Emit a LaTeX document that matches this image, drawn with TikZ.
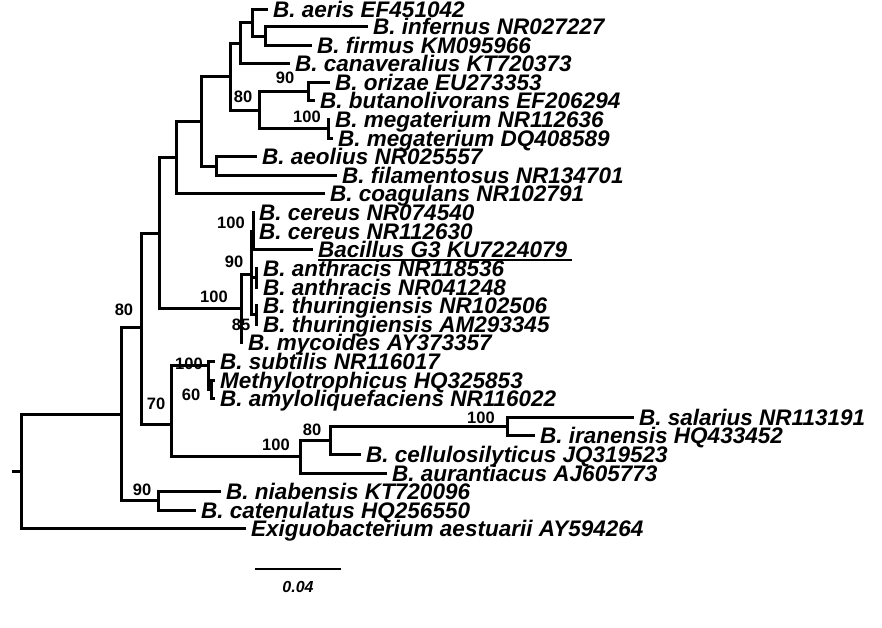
\documentclass[tikz,border=0pt]{standalone}
\usepackage{fontspec}
\setmainfont{Liberation Sans}
\begin{document}
\begin{tikzpicture}[x=1pt,y=-1pt,
  br/.style={line width=3pt, line join=miter},
  lab/.style={anchor=west, inner xsep=5pt, inner ysep=0pt, text height=16pt, text depth=0pt, font=\bfseries\itshape\fontsize{22.5}{24}\selectfont},
  bs/.style={inner sep=0pt, font=\bfseries\fontsize{16.5}{18}\selectfont}]
\useasboundingbox (0,0) rectangle (882,628);
% tips
\coordinate (t1) at (268,9.5);
\coordinate (t2) at (368,27);
\coordinate (t3) at (312,45.4);
\coordinate (t4) at (290,63.8);
\coordinate (t5) at (330,82.4);
\coordinate (t6) at (315,101);
\coordinate (t7) at (330,119.6);
\coordinate (t8) at (333,138.2);
\coordinate (t9) at (257,156.8);
\coordinate (t10) at (337,175.4);
\coordinate (t11) at (325,194);
\coordinate (t12) at (254,212.6);
\coordinate (t13) at (254,231.2);
\coordinate (t14) at (313,249.8);
\coordinate (t15) at (258,268.4);
\coordinate (t16) at (258,287);
\coordinate (t17) at (258,305.6);
\coordinate (t18) at (258,324.2);
\coordinate (t19) at (243,342.8);
\coordinate (t20) at (215,361.4);
\coordinate (t21) at (215,380);
\coordinate (t22) at (215,398.6);
\coordinate (t23) at (634,417.2);
\coordinate (t24) at (535,435.8);
\coordinate (t25) at (361,454.4);
\coordinate (t26) at (387,473);
\coordinate (t27) at (221,491.6);
\coordinate (t28) at (196,510.2);
\coordinate (t29) at (246,528.8);
% internal nodes
\coordinate (I) at (265,36.2);
\coordinate (H) at (252,22.85);
\coordinate (G) at (240,43.3);
\coordinate (K) at (308,91.7);
\coordinate (L) at (328,128.9);
\coordinate (J) at (259,110.3);
\coordinate (F) at (230,76.8);
\coordinate (M) at (216,166.1);
\coordinate (E) at (201,121.45);
\coordinate (D) at (176,157.7);
\coordinate (R) at (253.5,231.2);
\coordinate (Q) at (256,277.7);
\coordinate (P) at (256,314.9);
\coordinate (O) at (251.5,274);
\coordinate (N) at (241,308.4);
\coordinate (C) at (159,233);
\coordinate (T) at (211,389.3);
\coordinate (S) at (208,365);
\coordinate (X) at (507,426.5);
\coordinate (W) at (330,440.45);
\coordinate (V) at (300,456.7);
\coordinate (U) at (171,424);
\coordinate (B) at (141,327);
\coordinate (Y) at (158,500.9);
\coordinate (A) at (121,414);
\coordinate (root) at (21,471.4);
\coordinate (rs) at (12,471.4);
% branches
\draw[br] (rs) -- (root);
\foreach \p/\c in {root/A, root/t29, A/B, A/Y, B/C, B/U, C/D, C/N, D/E, D/t11,
  E/F, E/M, F/G, F/J, G/H, G/t4, H/t1, H/I, I/t2, I/t3, J/K, J/L, K/t5, K/t6,
  L/t7, L/t8, M/t9, M/t10, N/O, N/t19, O/R, O/Q, O/P, R/t12, R/t13, R/t14,
  Q/t15, Q/t16, P/t17, P/t18, Y/t27, Y/t28, U/S, U/V, S/t20, S/T, T/t21, T/t22,
  V/W, V/t26, W/X, W/t25, X/t23, X/t24}
  \draw[br] (\p) |- (\c);
% labels
\node[lab] (l1) at (t1) {B. aeris EF451042};
\node[lab] (l2) at (t2) {B. infernus NR027227};
\node[lab] (l3) at (t3) {B. firmus KM095966};
\node[lab] (l4) at (t4) {B. canaveralius KT720373};
\node[lab] (l5) at (t5) {B. orizae EU273353};
\node[lab] (l6) at (t6) {B. butanolivorans EF206294};
\node[lab] (l7) at (t7) {B. megaterium NR112636};
\node[lab] (l8) at (t8) {B. megaterium DQ408589};
\node[lab] (l9) at (t9) {B. aeolius NR025557};
\node[lab] (l10) at (t10) {B. filamentosus NR134701};
\node[lab] (l11) at (t11) {B. coagulans NR102791};
\node[lab] (l12) at (t12) {B. cereus NR074540};
\node[lab] (l13) at (t13) {B. cereus NR112630};
\node[lab] (l14) at (t14) {Bacillus G3 KU7224079};
\draw[line width=2pt] ([shift={(5pt,-2.6pt)}]l14.base west) -- ([yshift=-2.6pt]l14.base east);
\node[lab] (l15) at (t15) {B. anthracis NR118536};
\node[lab] (l16) at (t16) {B. anthracis NR041248};
\node[lab] (l17) at (t17) {B. thuringiensis NR102506};
\node[lab] (l18) at (t18) {B. thuringiensis AM293345};
\node[lab] (l19) at (t19) {B. mycoides AY373357};
\node[lab] (l20) at (t20) {B. subtilis NR116017};
\node[lab] (l21) at (t21) {Methylotrophicus HQ325853};
\node[lab] (l22) at (t22) {B. amyloliquefaciens NR116022};
\node[lab] (l23) at (t23) {B. salarius NR113191};
\node[lab] (l24) at (t24) {B. iranensis HQ433452};
\node[lab] (l25) at (t25) {B. cellulosilyticus JQ319523};
\node[lab] (l26) at (t26) {B. aurantiacus AJ605773};
\node[lab] (l27) at (t27) {B. niabensis KT720096};
\node[lab] (l28) at (t28) {B. catenulatus HQ256550};
\node[lab] (l29) at (t29) {Exiguobacterium aestuarii AY594264};
% bootstrap values
\node[bs] (bK) at (285,78) {90};
\node[bs] (bJ) at (243,97) {80};
\node[bs] (bL) at (307,117) {100};
\node[bs] (bR) at (231,223) {100};
\node[bs] (bO) at (234,262) {90};
\node[bs] (bN) at (214,297) {100};
\node[bs] (bP) at (241,325) {85};
\node[bs] (bB) at (124,310) {80};
\node[bs] (bS) at (189,364) {100};
\node[bs] (bT) at (191,395) {60};
\node[bs] (bU) at (156,404) {70};
\node[bs] (bV) at (276,445) {100};
\node[bs] (bW) at (312,430) {80};
\node[bs] (bX) at (481,418) {100};
\node[bs] (bY) at (142,490) {90};
% scale bar
\coordinate (sb1) at (255,569);
\coordinate (sb2) at (341,569);
\draw[line width=2.5pt] (sb1) -- (sb2);
\node[inner sep=0pt, font=\bfseries\itshape\fontsize{16}{17}\selectfont] (sbl) at (298,587) {0.04};
\end{tikzpicture}
\end{document}
